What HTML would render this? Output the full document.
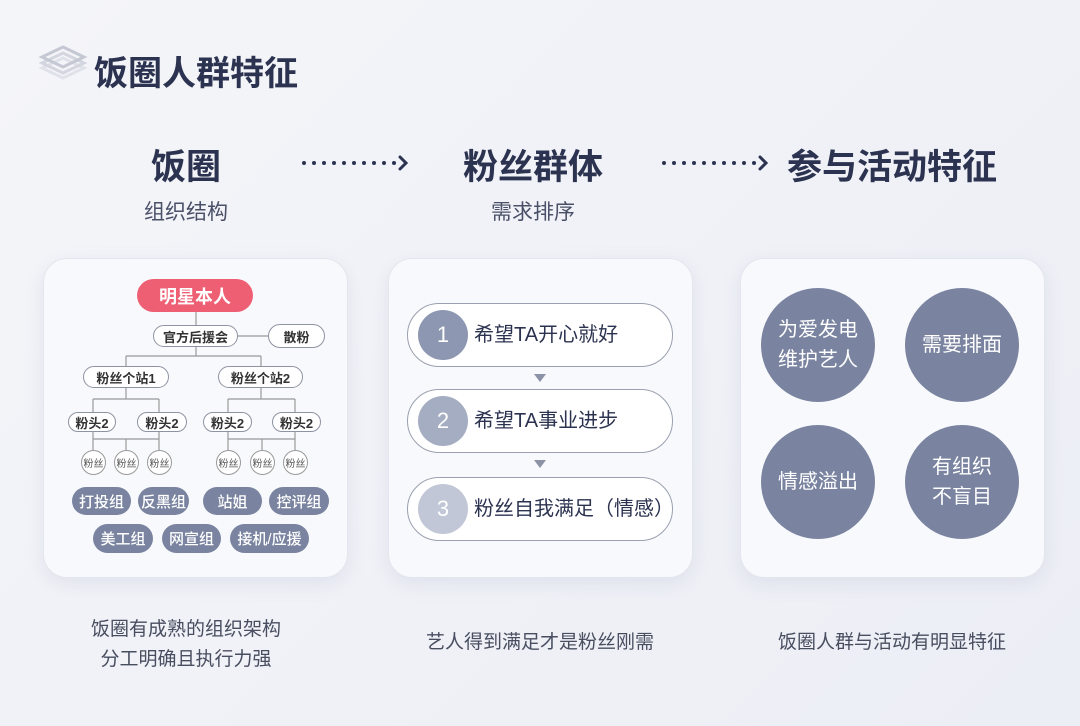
<!DOCTYPE html>
<html><head><meta charset="utf-8"><style>
*{margin:0;padding:0;box-sizing:border-box}
body{width:1080px;height:726px;overflow:hidden;background:linear-gradient(135deg,#f4f5f9,#eceef5);font-family:"Liberation Sans","Noto Sans CJK SC",sans-serif;position:relative;color:#2c3350}
.a{position:absolute}
.c{position:absolute;display:flex;align-items:center;justify-content:center;white-space:nowrap}
.card{position:absolute;top:258px;width:305px;height:320px;border-radius:24px;background:#f8f9fc;border:1px solid #e3e6ee;box-shadow:0 6px 18px rgba(150,160,190,.18)}
.h{font-size:35px;font-weight:bold;color:#2c3350}
.s{font-size:21px;color:#4a5068}
.w{background:#fff;border:1.3px solid #8e93a3;border-radius:14px;font-size:13px;color:#333;font-weight:bold}
.g{background:#7a84a0;border-radius:15px;font-size:15px;color:#fff;font-weight:500}
.f{border:1px solid #999;border-radius:50%;font-size:10px;color:#555;background:#fff}
.pill{position:absolute;left:407px;width:266px;height:64px;border-radius:32px;background:#fff;border:1.3px solid #9aa0b0}
.num{position:absolute;left:10px;top:6px;width:50px;height:50px;border-radius:50%;color:#fff;font-size:22px;display:flex;align-items:center;justify-content:center}
.pt{position:absolute;left:66px;top:0;height:62px;line-height:62px;font-size:20px;color:#2c3350;white-space:nowrap}
.big{width:114px;height:114px;border-radius:50%;background:#7a84a0;color:#fff;font-size:20px;text-align:center;line-height:30px}
.cap{font-size:19px;color:#484e60;text-align:center;line-height:30px}
</style></head><body>
<svg class="a" style="left:38px;top:44px" width="50" height="44" viewBox="0 0 50 44">
<path d="M25 14 L46 24 L25 34 L4 24 Z" fill="none" stroke="#e0e2ea" stroke-width="3"/>
<path d="M25 9 L46 19 L25 29 L4 19 Z" fill="none" stroke="#d3d6df" stroke-width="3"/>
<path d="M25 3 L46 13 L25 23 L4 13 Z" fill="none" stroke="#c4c8d3" stroke-width="3"/>
</svg>
<div class="a" style="left:94px;top:46px;font-size:34px;font-weight:bold;color:#2c3350;white-space:nowrap">饭圈人群特征</div>

<div class="c h" style="left:86px;width:200px;top:143px;height:42px">饭圈</div>
<div class="c s" style="left:86px;width:200px;top:196px;height:30px">组织结构</div>
<div class="c h" style="left:433px;width:200px;top:143px;height:42px">粉丝群体</div>
<div class="c s" style="left:433px;width:200px;top:196px;height:30px">需求排序</div>
<div class="c h" style="left:772px;width:240px;top:143px;height:42px">参与活动特征</div>

<svg class="a" style="left:0;top:0" width="1080" height="726">
<g fill="#2c3350">
<circle cx="304" cy="163" r="2"/><circle cx="314" cy="163" r="2"/><circle cx="324" cy="163" r="2"/><circle cx="334" cy="163" r="2"/><circle cx="344" cy="163" r="2"/><circle cx="354" cy="163" r="2"/><circle cx="364" cy="163" r="2"/><circle cx="374" cy="163" r="2"/><circle cx="384" cy="163" r="2"/><circle cx="394" cy="163" r="2"/>
<circle cx="664" cy="163" r="2"/><circle cx="674" cy="163" r="2"/><circle cx="684" cy="163" r="2"/><circle cx="694" cy="163" r="2"/><circle cx="704" cy="163" r="2"/><circle cx="714" cy="163" r="2"/><circle cx="724" cy="163" r="2"/><circle cx="734" cy="163" r="2"/><circle cx="744" cy="163" r="2"/><circle cx="754" cy="163" r="2"/>
</g>
<path d="M400 157 L406 163 L400 169 M760 157 L766 163 L760 169" fill="none" stroke="#2c3350" stroke-width="3" stroke-linecap="round"/>
</svg>

<div class="card" style="left:43px"></div>
<div class="card" style="left:388px"></div>
<div class="card" style="left:740px"></div>

<svg class="a" style="left:0;top:0" width="1080" height="726" fill="none" stroke="#999" stroke-width="1.2">
<path d="M196 312 V325 M238 336 H268 M196 347 V356 M126 356 H261 M126 356 V366 M261 356 V366"/>
<path d="M126 388 V399 M93 399 H159 M93 399 V412 M159 399 V412"/>
<path d="M261 388 V399 M228 399 H295 M228 399 V412 M295 399 V412"/>
<path d="M93 432 V450 M93 439 H159 M126 439 V450 M159 432 V450"/>
<path d="M228 432 V450 M228 439 H295 M262 439 V450 M295 432 V450"/>
</svg>

<div class="c" style="left:137px;top:279px;width:116px;height:33px;border-radius:17px;background:#ee5f74;color:#fff;font-size:18px;font-weight:bold">明星本人</div>
<div class="c w" style="left:153px;top:325px;width:85px;height:22px">官方后援会</div>
<div class="c w" style="left:268px;top:324px;width:57px;height:24px">散粉</div>
<div class="c w" style="left:83px;top:366px;width:86px;height:22px">粉丝个站1</div>
<div class="c w" style="left:218px;top:366px;width:85px;height:22px">粉丝个站2</div>
<div class="c w" style="left:68px;top:412px;width:48px;height:20px">粉头2</div>
<div class="c w" style="left:137px;top:412px;width:50px;height:20px">粉头2</div>
<div class="c w" style="left:203px;top:412px;width:49px;height:20px">粉头2</div>
<div class="c w" style="left:272px;top:412px;width:49px;height:20px">粉头2</div>
<div class="c f" style="left:81px;top:450px;width:25px;height:25px">粉丝</div>
<div class="c f" style="left:114px;top:450px;width:25px;height:25px">粉丝</div>
<div class="c f" style="left:147px;top:450px;width:25px;height:25px">粉丝</div>
<div class="c f" style="left:216px;top:450px;width:25px;height:25px">粉丝</div>
<div class="c f" style="left:250px;top:450px;width:25px;height:25px">粉丝</div>
<div class="c f" style="left:283px;top:450px;width:25px;height:25px">粉丝</div>
<div class="c g" style="left:72px;top:487px;width:59px;height:28px">打投组</div>
<div class="c g" style="left:138px;top:487px;width:51px;height:28px">反黑组</div>
<div class="c g" style="left:203px;top:487px;width:59px;height:28px">站姐</div>
<div class="c g" style="left:269px;top:487px;width:60px;height:28px">控评组</div>
<div class="c g" style="left:93px;top:524px;width:60px;height:29px">美工组</div>
<div class="c g" style="left:162px;top:524px;width:59px;height:29px">网宣组</div>
<div class="c g" style="left:230px;top:524px;width:79px;height:29px">接机/应援</div>

<div class="pill" style="top:303px"><div class="num" style="background:#8d97b1">1</div><div class="pt">希望TA开心就好</div></div>
<div class="pill" style="top:389px"><div class="num" style="background:#a5adc3">2</div><div class="pt">希望TA事业进步</div></div>
<div class="pill" style="top:477px"><div class="num" style="background:#c1c7d7">3</div><div class="pt">粉丝自我满足（情感）</div></div>
<svg class="a" style="left:0;top:0" width="1080" height="726" fill="#8d93a6">
<path d="M534 374 H546 L540 382 Z"/><path d="M534 460 H546 L540 468 Z"/>
</svg>

<div class="c big" style="left:761px;top:288px">为爱发电<br>维护艺人</div>
<div class="c big" style="left:905px;top:288px">需要排面</div>
<div class="c big" style="left:761px;top:425px">情感溢出</div>
<div class="c big" style="left:905px;top:425px">有组织<br>不盲目</div>

<div class="a cap" style="left:36px;width:300px;top:615px">饭圈有成熟的组织架构<br>分工明确且执行力强</div>
<div class="a cap" style="left:390px;width:300px;top:628px">艺人得到满足才是粉丝刚需</div>
<div class="a cap" style="left:742px;width:300px;top:628px">饭圈人群与活动有明显特征</div>
</body></html>
